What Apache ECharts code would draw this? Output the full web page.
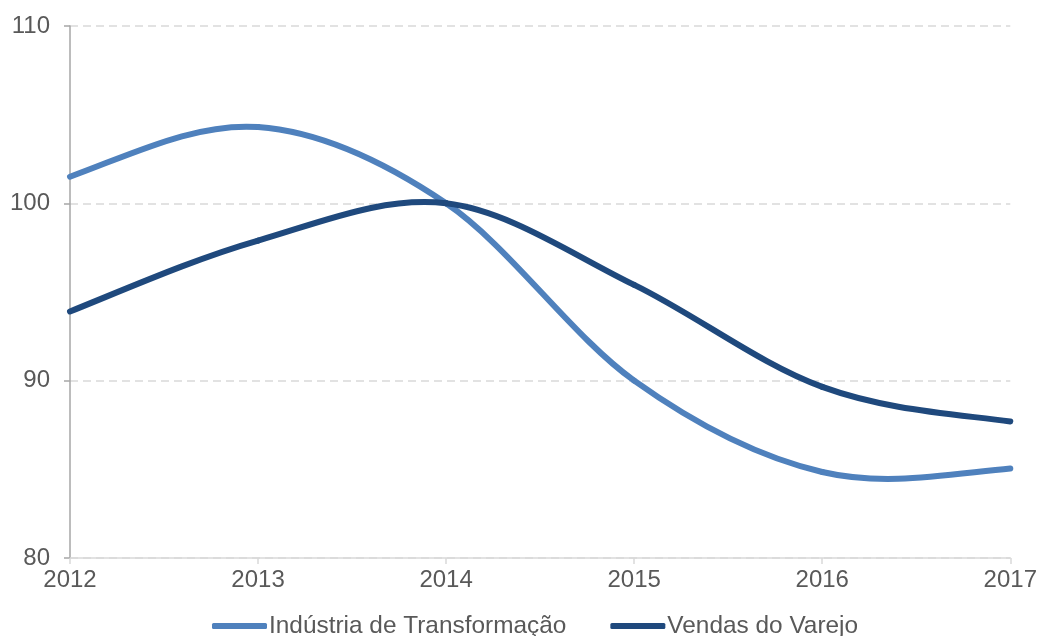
<!DOCTYPE html>
<html>
<head>
<meta charset="utf-8">
<script src="https://cdn.jsdelivr.net/npm/echarts@6/dist/echarts.min.js"></script>
<style>
  html, body { margin: 0; padding: 0; background: #ffffff; }
  #chart { width: 1040px; height: 636px; }
</style>
</head>
<body>
<div id="chart"></div>
<script>
// Annual index values (2014 = 100)
const years = ['2012', '2013', '2014', '2015', '2016', '2017'];
const industria = [101.5, 104.3, 100.0, 90.0, 84.85, 85.05];
const varejo = [93.9, 97.9, 100.0, 95.4, 89.65, 87.7];
const seriesNames = ['Indústria de Transformação', 'Vendas do Varejo'];
const seriesColors = ['#4f81bd', '#1f497d'];

const textColor = '#595959';
const fontFamily = '"Liberation Sans", Arial, sans-serif';
const LINE_WIDTH = 6;

// Cardinal-spline renderer: each data item draws the cubic Bezier segment
// that joins it to the next point. Points come from the axes via api.coord.
function makeSmoothRenderer(values, color) {
  return function (params, api) {
    const i = params.dataIndex;
    const n = values.length;
    if (i >= n - 1) return null;
    const pts = values.map((v, k) => api.coord([k, v]));
    // tangent (pixel dy per segment) at point k
    function tangent(k) {
      if (k > 0 && k < n - 1) return (pts[k + 1][1] - pts[k - 1][1]) / 2;
      if (k === 0) {
        const c = pts[1][1] - pts[0][1];
        return c + 0.3 * (c - tangent(1));
      }
      const c = pts[n - 1][1] - pts[n - 2][1];
      return c + 0.3 * (c - tangent(n - 2));
    }
    const p0 = pts[i], p1 = pts[i + 1];
    const dx = p1[0] - p0[0];
    return {
      type: 'bezierCurve',
      shape: {
        x1: p0[0], y1: p0[1],
        cpx1: p0[0] + dx / 3, cpy1: p0[1] + tangent(i) / 3,
        cpx2: p1[0] - dx / 3, cpy2: p1[1] - tangent(i + 1) / 3,
        x2: p1[0], y2: p1[1]
      },
      style: { stroke: color, lineWidth: LINE_WIDTH, fill: null, lineCap: 'round' }
    };
  };
}

function smoothSeries(name, values, color, z) {
  return {
    name: name,
    type: 'custom',
    data: values.map((v, k) => [k, v]),
    encode: { x: 0, y: 1 },
    itemStyle: { color: color },
    renderItem: makeSmoothRenderer(values, color),
    z: z
  };
}

const chart = echarts.init(document.getElementById('chart'), null, { renderer: 'canvas' });

chart.setOption({
  animation: false,
  backgroundColor: '#ffffff',
  textStyle: { fontFamily: fontFamily },
  grid: { left: 70, right: 28, top: 26, bottom: 78, containLabel: false },
  legend: {
    left: 207,
    top: 609,
    itemGap: 44,
    itemWidth: 55,
    itemHeight: 6,
    icon: 'roundRect',
    textStyle: { color: textColor, fontSize: 24.4, fontFamily: fontFamily, padding: [0, 0, 0, -3] },
    data: seriesNames
  },
  xAxis: {
    type: 'category',
    data: years,
    boundaryGap: false,
    axisLine: { show: true, lineStyle: { color: '#d9d9d9', width: 1.5 } },
    axisTick: { show: true, alignWithLabel: true, length: 6, lineStyle: { color: '#d9d9d9', width: 1.5 } },
    axisLabel: { color: textColor, fontSize: 24, fontFamily: fontFamily, margin: 10 },
    splitLine: { show: false }
  },
  yAxis: {
    type: 'value',
    min: 80,
    max: 110,
    interval: 10,
    axisLine: { show: true, lineStyle: { color: '#a6a6a6', width: 1.5 } },
    axisTick: { show: true, length: 6, lineStyle: { color: '#a6a6a6', width: 1.5 } },
    axisLabel: { color: textColor, fontSize: 24, fontFamily: fontFamily, margin: 20 },
    splitLine: { show: true, lineStyle: { color: '#d9d9d9', width: 1.5, type: [8, 5] } }
  },
  series: [
    smoothSeries(seriesNames[0], industria, seriesColors[0], 2),
    smoothSeries(seriesNames[1], varejo, seriesColors[1], 3)
  ]
});
</script>
</body>
</html>
